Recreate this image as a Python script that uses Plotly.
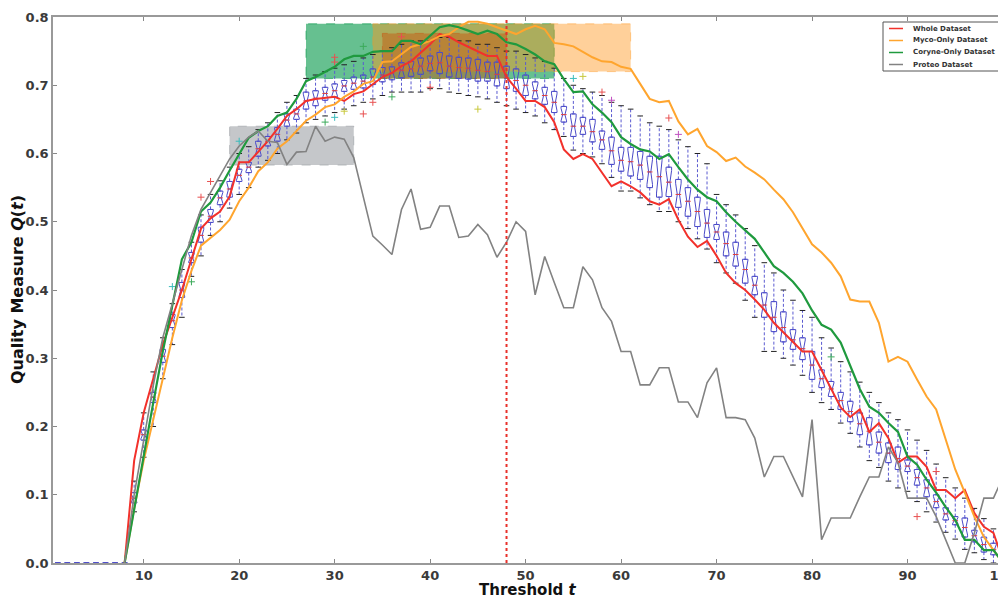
import plotly.graph_objects as go

# ---------------- data ----------------
T_LINE = list(range(8, 101))

whole = [0, 0.15, 0.22, 0.27, 0.32, 0.36, 0.40, 0.445, 0.49, 0.505, 0.515, 0.537, 0.587, 0.587, 0.603, 0.618,
         0.636, 0.655, 0.665, 0.677, 0.68, 0.682, 0.683, 0.677, 0.687, 0.691, 0.702, 0.712, 0.718, 0.728, 0.735,
         0.748, 0.76, 0.775, 0.771, 0.763, 0.756, 0.749, 0.743, 0.743, 0.712, 0.695, 0.677, 0.677, 0.668, 0.646,
         0.606, 0.592, 0.599, 0.592, 0.572, 0.552, 0.559, 0.552, 0.543, 0.530, 0.525, 0.533, 0.503, 0.478, 0.463,
         0.472, 0.45, 0.425, 0.41, 0.40, 0.386, 0.371, 0.352, 0.338, 0.323, 0.31, 0.31, 0.283, 0.254, 0.228, 0.214,
         0.225, 0.192, 0.205, 0.183, 0.147, 0.156, 0.156, 0.141, 0.107, 0.107, 0.095, 0.107, 0.073, 0.053, 0.044,
         0.004]

myco = [0, 0.08, 0.15, 0.21, 0.27, 0.33, 0.385, 0.428, 0.465, 0.477, 0.488, 0.503, 0.53, 0.55, 0.574, 0.587,
        0.607, 0.618, 0.633, 0.648, 0.657, 0.668, 0.672, 0.683, 0.691, 0.702, 0.706, 0.734, 0.735, 0.746, 0.756,
        0.76, 0.765, 0.772, 0.775, 0.785, 0.793, 0.793, 0.79, 0.785, 0.78, 0.775, 0.782, 0.787, 0.782, 0.762,
        0.76, 0.757, 0.749, 0.741, 0.735, 0.734, 0.727, 0.724, 0.702, 0.68, 0.675, 0.677, 0.647, 0.628, 0.636,
        0.611, 0.602, 0.589, 0.594, 0.581, 0.572, 0.562, 0.547, 0.533, 0.514, 0.49, 0.467, 0.455, 0.44, 0.42,
        0.386, 0.383, 0.383, 0.352, 0.295, 0.302, 0.295, 0.269, 0.244, 0.225, 0.18, 0.137, 0.103, 0.068, 0.038,
        0.019, 0]

coryne = [0, 0.08, 0.16, 0.235, 0.31, 0.38, 0.445, 0.47, 0.515, 0.528, 0.55, 0.575, 0.60, 0.623, 0.633, 0.64,
          0.655, 0.66, 0.68, 0.706, 0.712, 0.719, 0.727, 0.738, 0.743, 0.743, 0.749, 0.75, 0.75, 0.765, 0.765,
          0.76, 0.772, 0.785, 0.788, 0.785, 0.78, 0.775, 0.78, 0.775, 0.763, 0.76, 0.753, 0.745, 0.735, 0.731,
          0.709, 0.69, 0.691, 0.672, 0.66, 0.646, 0.624, 0.614, 0.606, 0.603, 0.592, 0.599, 0.58, 0.562, 0.547,
          0.536, 0.53, 0.514, 0.50, 0.487, 0.475, 0.455, 0.435, 0.425, 0.412, 0.395, 0.37, 0.349, 0.342, 0.323,
          0.29, 0.255, 0.229, 0.22, 0.205, 0.192, 0.156, 0.144, 0.122, 0.103, 0.082, 0.063, 0.034, 0.034, 0.019,
          0.019, 0]

proteo = [0, 0.10, 0.18, 0.26, 0.33, 0.38, 0.43, 0.48, 0.518, 0.543, 0.567, 0.592, 0.611, 0.624, 0.633, 0.618,
          0.616, 0.584, 0.602, 0.603, 0.64, 0.618, 0.624, 0.621, 0.594, 0.535, 0.479, 0.466, 0.452, 0.518, 0.548,
          0.489, 0.492, 0.523, 0.523, 0.477, 0.479, 0.496, 0.481, 0.448, 0.47, 0.50, 0.486, 0.393, 0.449, 0.411,
          0.374, 0.374, 0.434, 0.415, 0.374, 0.354, 0.31, 0.31, 0.261, 0.261, 0.286, 0.286, 0.236, 0.236, 0.213,
          0.264, 0.286, 0.213, 0.213, 0.21, 0.183, 0.126, 0.156, 0.156, 0.126, 0.097, 0.21, 0.034, 0.066, 0.066,
          0.066, 0.097, 0.126, 0.126, 0.17, 0.147, 0.095, 0.095, 0.095, 0.068, 0.034, 0, 0, 0.044, 0.095, 0.095,
          0.126]

# box plot statistics, t = 1..100
T_BOX = list(range(1, 101))
box_q1 = [0, 0, 0, 0, 0, 0, 0, 0,
          0.088, 0.18, 0.235, 0.294, 0.345, 0.389, 0.44, 0.47, 0.499, 0.525, 0.536, 0.559, 0.572, 0.596, 0.611,
          0.618, 0.64, 0.65, 0.665, 0.67, 0.678, 0.683, 0.691, 0.694, 0.696, 0.701, 0.705, 0.708, 0.711, 0.713,
          0.716, 0.721, 0.717, 0.712, 0.71, 0.709, 0.706, 0.706, 0.699, 0.695, 0.691, 0.685, 0.68, 0.672, 0.66,
          0.646, 0.625, 0.628, 0.617, 0.606, 0.584, 0.574, 0.567, 0.562, 0.55, 0.536, 0.537, 0.521, 0.508, 0.493,
          0.477, 0.474, 0.45, 0.435, 0.41, 0.393, 0.36, 0.339, 0.324, 0.313, 0.298, 0.269, 0.257, 0.244, 0.225,
          0.207, 0.188, 0.173, 0.161, 0.147, 0.137, 0.134, 0.114, 0.097, 0.081, 0.063, 0.056, 0.038, 0.031,
          0.016, 0.012, 0.0]
box_med = [0, 0, 0, 0, 0, 0, 0, 0,
           0.095, 0.188, 0.243, 0.303, 0.355, 0.40, 0.447, 0.48, 0.508, 0.535, 0.548, 0.568, 0.58, 0.607, 0.618,
           0.628, 0.649, 0.658, 0.677, 0.681, 0.688, 0.692, 0.699, 0.703, 0.706, 0.712, 0.715, 0.718, 0.722,
           0.724, 0.728, 0.732, 0.733, 0.728, 0.726, 0.725, 0.722, 0.72, 0.716, 0.711, 0.707, 0.70, 0.692, 0.685,
           0.675, 0.657, 0.64, 0.64, 0.632, 0.62, 0.604, 0.59, 0.588, 0.583, 0.573, 0.566, 0.558, 0.54, 0.53,
           0.515, 0.498, 0.485, 0.468, 0.452, 0.43, 0.407, 0.378, 0.36, 0.345, 0.327, 0.314, 0.29, 0.27, 0.255,
           0.238, 0.222, 0.204, 0.193, 0.177, 0.161, 0.153, 0.142, 0.125, 0.11, 0.09, 0.072, 0.062, 0.052, 0.04,
           0.027, 0.02, 0.002]
box_q3 = [0, 0, 0, 0, 0, 0, 0, 0,
          0.103, 0.195, 0.25, 0.313, 0.364, 0.411, 0.455, 0.492, 0.518, 0.545, 0.559, 0.577, 0.587, 0.618, 0.625,
          0.638, 0.658, 0.665, 0.69, 0.692, 0.697, 0.702, 0.707, 0.712, 0.715, 0.724, 0.726, 0.727, 0.733, 0.735,
          0.74, 0.743, 0.748, 0.743, 0.741, 0.74, 0.738, 0.734, 0.734, 0.728, 0.724, 0.715, 0.705, 0.697, 0.691,
          0.669, 0.658, 0.653, 0.65, 0.633, 0.624, 0.609, 0.609, 0.603, 0.596, 0.596, 0.58, 0.562, 0.55, 0.536,
          0.518, 0.496, 0.485, 0.47, 0.445, 0.42, 0.396, 0.383, 0.368, 0.342, 0.33, 0.31, 0.283, 0.266, 0.25,
          0.237, 0.22, 0.213, 0.192, 0.176, 0.17, 0.151, 0.137, 0.122, 0.10, 0.081, 0.068, 0.066, 0.048, 0.038,
          0.029, 0.005]
box_lo = [0, 0, 0, 0, 0, 0, 0, 0,
          0.075, 0.155, 0.20, 0.27, 0.32, 0.36, 0.42, 0.45, 0.48, 0.50, 0.52, 0.54, 0.55, 0.58, 0.59, 0.60, 0.62,
          0.63, 0.645, 0.65, 0.655, 0.66, 0.665, 0.67, 0.675, 0.68, 0.685, 0.69, 0.69, 0.69, 0.69, 0.695, 0.695,
          0.69, 0.688, 0.685, 0.683, 0.68, 0.675, 0.67, 0.665, 0.66, 0.655, 0.645, 0.635, 0.625, 0.605, 0.60,
          0.595, 0.585, 0.565, 0.545, 0.545, 0.535, 0.525, 0.515, 0.515, 0.50, 0.49, 0.475, 0.46, 0.44, 0.425,
          0.41, 0.385, 0.36, 0.31, 0.31, 0.30, 0.29, 0.275, 0.25, 0.235, 0.225, 0.205, 0.19, 0.17, 0.15, 0.14,
          0.12, 0.11, 0.105, 0.09, 0.075, 0.06, 0.045, 0.035, 0.02, 0.015, 0.005, 0.0, 0.0]
box_hi = [0, 0, 0, 0, 0, 0, 0, 0,
          0.12, 0.22, 0.28, 0.33, 0.38, 0.43, 0.47, 0.51, 0.54, 0.56, 0.58, 0.60, 0.61, 0.635, 0.645, 0.66,
          0.675, 0.685, 0.71, 0.715, 0.72, 0.725, 0.73, 0.735, 0.74, 0.745, 0.75, 0.755, 0.76, 0.765, 0.765,
          0.765, 0.77, 0.77, 0.765, 0.765, 0.76, 0.76, 0.755, 0.75, 0.75, 0.745, 0.74, 0.735, 0.725, 0.71, 0.70,
          0.695, 0.69, 0.685, 0.675, 0.67, 0.665, 0.655, 0.645, 0.64, 0.635, 0.62, 0.61, 0.60, 0.585, 0.54,
          0.525, 0.51, 0.49, 0.465, 0.44, 0.425, 0.40, 0.385, 0.37, 0.36, 0.33, 0.315, 0.295, 0.28, 0.265, 0.25,
          0.235, 0.22, 0.21, 0.195, 0.18, 0.165, 0.145, 0.125, 0.11, 0.095, 0.08, 0.065, 0.05, 0.015]

# outliers (fliers)
out_t = [13, 15, 16, 17, 20, 29, 30, 30, 30, 31, 33, 33, 34, 36, 37, 40, 45, 55, 56, 58, 59, 65, 66, 82, 91, 93]
out_v = [0.405, 0.412, 0.536, 0.559, 0.618, 0.646, 0.653, 0.741, 0.734, 0.662, 0.757, 0.658, 0.675, 0.683,
         0.771, 0.697, 0.665, 0.71, 0.713, 0.69, 0.678, 0.652, 0.628, 0.302, 0.068, 0.134]
out_c = ['#3cbcbc', '#3caa5a', '#e85050', '#e85050', '#3cbcbc', '#3caa5a', '#3cbcbc', '#e85050', '#e85050',
         '#c8c83c', '#3caa5a', '#e85050', '#e85050', '#3caa5a', '#e85050', '#e85050', '#c8c83c', '#3cbcbc',
         '#c8c83c', '#e85050', '#c050c0', '#e85050', '#c050c0', '#3caa5a', '#e85050', '#e85050']

# highlighted regions (best threshold ranges)
region_x0 = [27, 34, 35, 19]
region_x1 = [53, 61, 48, 32]
region_y0 = [0.71, 0.72, 0.71, 0.583]
region_y1 = [0.79, 0.79, 0.776, 0.64]
region_fill = ['rgba(0,150,70,0.6)', 'rgba(255,150,30,0.45)', 'rgba(205,70,0,0.4)', 'rgba(140,143,150,0.5)']

THRESHOLD = 48

series_names = ['Whole Dataset', 'Myco-Only Dataset', 'Coryne-Only Dataset', 'Proteo Dataset']
series_vals = [whole, myco, coryne, proteo]
series_colors = ['#f2312b', '#ffa52e', '#1f9a3e', '#828282']
series_widths = [2, 2, 2.2, 1.6]

# ---------------- layout geometry ----------------
W, H = 1006, 598
PAGE_OFF = 8                       # default page margin around the plot div
PL, PR, PT, PB = 53, 1003, 17, 563  # wanted plot box in window pixels
ML, MT = PL - PAGE_OFF, PT - PAGE_OFF
MR, MB = W - (PR - PAGE_OFF), H - (PB - PAGE_OFF)
PW, PH = PR - PL, PB - PT


def px_x(p):
    return (p - PL) / PW


def px_y(p):
    return (PB - p) / PH


fig = go.Figure()

notch = [0.4 * (b - a) for a, b in zip(box_q1, box_q3)]
fig.add_trace(go.Box(
    x=T_BOX, q1=box_q1, median=box_med, q3=box_q3, lowerfence=box_q1, upperfence=box_q3,
    notched=True, notchspan=notch, notchwidth=0.3, width=0.58,
    line=dict(color='#4a4ac8', width=1), fillcolor='rgba(0,0,0,0)',
    boxpoints=False, showlegend=False, hoverinfo='skip'))

wx, wy = [], []
for t, a, b, c, d in zip(T_BOX, box_q3, box_hi, box_q1, box_lo):
    if b > a:
        wx += [t, t, None]
        wy += [a, b, None]
    if d < c:
        wx += [t, t, None]
        wy += [c, d, None]
fig.add_trace(go.Scatter(x=wx, y=wy, mode='lines', line=dict(color='#5a5ad0', width=1, dash='3px,2px'),
                         showlegend=False, hoverinfo='skip'))

cx, cy = [], []
for t, lo_, hi_ in zip(T_BOX, box_lo, box_hi):
    if hi_ > 0:
        cx += [t, t]
        cy += [lo_, hi_]
fig.add_trace(go.Scatter(x=cx, y=cy, mode='markers',
                         marker=dict(symbol='line-ew', size=4, line=dict(color='#222', width=1)),
                         showlegend=False, hoverinfo='skip'))

mx = [t for t, m in zip(T_BOX, box_med) if m > 0]
my = [m for m in box_med if m > 0]
fig.add_trace(go.Scatter(x=mx, y=my, mode='markers',
                         marker=dict(symbol='line-ew', size=4, line=dict(color='#e04040', width=1)),
                         showlegend=False, hoverinfo='skip'))

fig.add_trace(go.Scatter(x=out_t, y=out_v, mode='markers',
                         marker=dict(symbol='cross-thin', size=5, line=dict(color=out_c, width=1)),
                         showlegend=False, hoverinfo='skip'))

for name, vals, col, w in zip(series_names, series_vals, series_colors, series_widths):
    fig.add_trace(go.Scatter(x=T_LINE, y=vals, mode='lines', name=name,
                             line=dict(color=col, width=w), showlegend=False))

shapes = []
for x0, x1, y0, y1, fc in zip(region_x0, region_x1, region_y0, region_y1, region_fill):
    shapes.append(dict(type='rect', xref='x', yref='y', x0=x0, x1=x1, y0=y0, y1=y1,
                       fillcolor=fc, line=dict(color=fc, width=1, dash='dash'), layer='below'))
shapes.append(dict(type='line', xref='x', yref='y', x0=THRESHOLD, x1=THRESHOLD, y0=0, y1=0.8,
                   line=dict(color='#e8312b', width=2, dash='dot')))

# compact legend box (drawn in paper space)
annotations = []
shapes.append(dict(type='rect', xref='paper', yref='paper', x0=px_x(883), x1=px_x(999),
                   y0=px_y(71), y1=px_y(22), fillcolor='white', line=dict(color='#555', width=1)))
for i, (name, col) in enumerate(zip(series_names, series_colors)):
    yc = 28.5 + 12 * i
    shapes.append(dict(type='line', xref='paper', yref='paper', x0=px_x(889), x1=px_x(903),
                       y0=px_y(yc), y1=px_y(yc), line=dict(color=col, width=1.5)))
    annotations.append(dict(text='<b>' + name + '</b>', xref='paper', yref='paper', x=px_x(911), y=px_y(yc),
                            xanchor='left', yanchor='middle', showarrow=False,
                            font=dict(family='DejaVu Sans', size=7, color='#333')))

annotations += [
    dict(text='<b>Threshold <i>t</i></b>', xref='paper', yref='paper', x=0.5, y=0, yshift=-27,
         xanchor='center', yanchor='middle', showarrow=False,
         font=dict(family='DejaVu Sans', size=15, color='#111')),
    dict(text='<b>Quality Measure <i>Q</i>(<i>t</i>)</b>', xref='paper', yref='paper', x=0, y=0.5,
         xshift=-36, textangle=-90, xanchor='center', yanchor='middle', showarrow=False,
         font=dict(family='DejaVu Sans', size=16, color='#111')),
]

axis_font = dict(family='DejaVu Sans', size=13, color='#3a3a3a', weight='bold')
fig.update_layout(
    width=W, height=H,
    margin=dict(l=ML, r=MR, t=MT, b=MB, autoexpand=False),
    plot_bgcolor='white', paper_bgcolor='white',
    shapes=shapes,
    showlegend=False,
    xaxis=dict(range=[0.5, 100], tickvals=[10, 20, 30, 40, 50, 60, 70, 80, 90, 100],
               showline=True, mirror='ticks', linecolor='#999', linewidth=1.5,
               ticks='inside', ticklen=4, tickcolor='#888', showgrid=False, zeroline=False,
               tickfont=axis_font, automargin=False, ticklabeloverflow='allow'),
    yaxis=dict(range=[0, 0.8], tickvals=[0, 0.1, 0.2, 0.3, 0.4, 0.5, 0.6, 0.7, 0.8], tickformat='.1f',
               showline=True, mirror='ticks', linecolor='#999', linewidth=1.5,
               ticks='inside', ticklen=4, tickcolor='#888', showgrid=False, zeroline=False,
               tickfont=axis_font, automargin=False, ticklabeloverflow='allow'),
    annotations=annotations,
)

fig.write_html('out.html')
